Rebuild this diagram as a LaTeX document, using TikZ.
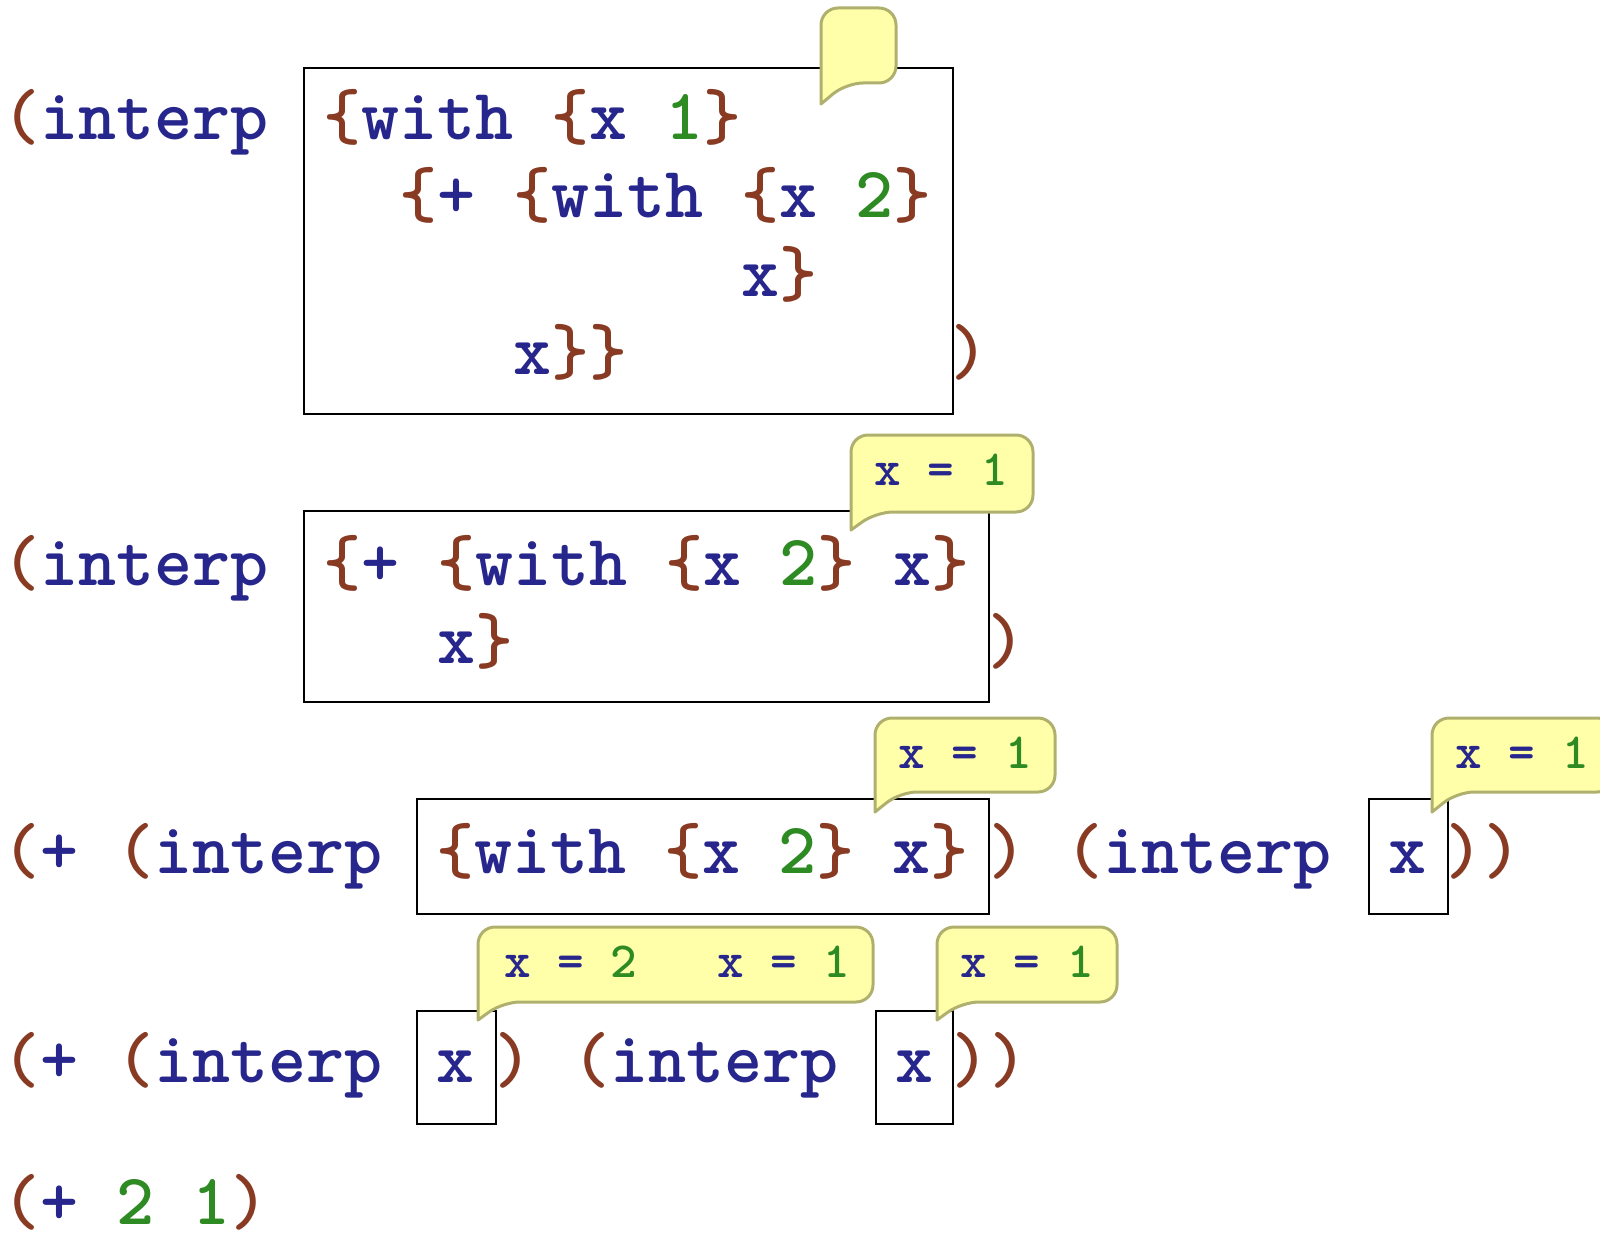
\documentclass[tikz,border=0pt]{standalone}
\definecolor{idblue}{RGB}{38,38,140}
\definecolor{brbrown}{RGB}{136,58,34}
\definecolor{numgreen}{RGB}{46,138,34}
\definecolor{bubfill}{RGB}{255,255,170}
\definecolor{bubedge}{RGB}{176,176,110}
\newcommand\Br[1]{\textcolor{brbrown}{#1}}
\newcommand\Id[1]{\textcolor{idblue}{#1}}
\newcommand\Num[1]{\textcolor{numgreen}{#1}}
% left, top, right, bottom, tip
\newcommand\speech[5]{\draw[bubble] (#1,#5) [rounded corners=17pt] -- (#1,#2) -- (#3,#2) -- (#3,#4) -- (#1+25,#4) [sharp corners] -- cycle;}
\begin{document}
\begin{tikzpicture}[x=1pt,y=-1pt,
    code/.style={font=\ttfamily\bfseries\fontsize{72.4}{78}\selectfont,inner sep=0pt,anchor=base west},
    note/.style={font=\ttfamily\bfseries\fontsize{50.7}{56}\selectfont,inner sep=0pt,anchor=base west},
    bubble/.style={fill=bubfill,draw=bubedge,line width=3pt,line join=round}]
    \tikzstyle{codebox}=[draw=black,line width=2pt,inner sep=0pt,anchor=north west]
    \useasboundingbox (0,0) rectangle (1600,1233);

    \node[codebox,minimum width=649pt,minimum height=346pt] (box1) at (303,67) {};
    \node[codebox,minimum width=685pt,minimum height=191pt] (box2) at (303,510) {};
    \node[codebox,minimum width=572pt,minimum height=115pt] (box3a) at (416,798) {};
    \node[codebox,minimum width=79pt,minimum height=115pt] (box3b) at (1368,798) {};
    \node[codebox,minimum width=79pt,minimum height=113pt] (box4a) at (416,1010) {};
    \node[codebox,minimum width=77pt,minimum height=113pt] (box4b) at (875,1010) {};

    % first step
    \node[code] (r1a) at (2,140) {\Br{(}\Id{interp}};
    \node[code] (r1b) at (323,140) {\Br{\{}\Id{with}~\Br{\{}\Id{x}~\Num{1}\Br{\}}};
    \node[code] (r1c) at (399,218) {\Br{\{}\Id{+}~\Br{\{}\Id{with}~\Br{\{}\Id{x}~\Num{2}\Br{\}}};
    \node[code] (r1d) at (741,296) {\Id{x}\Br{\}}};
    \node[code] (r1e) at (513,374) {\Id{x}\Br{\}\}}};
    \node[code] (r1f) at (950,374) {\Br{)}};

    % second step
    \node[code] (r2a) at (2,585) {\Br{(}\Id{interp}};
    \node[code] (r2b) at (323,585) {\Br{\{}\Id{+}~\Br{\{}\Id{with}~\Br{\{}\Id{x}~\Num{2}\Br{\}}~\Id{x}\Br{\}}};
    \node[code] (r2c) at (437,663) {\Id{x}\Br{\}}};
    \node[code] (r2d) at (987,663) {\Br{)}};

    % third step
    \node[code] (r3a) at (2,873) {\Br{(}\Id{+}~\Br{(}\Id{interp}};
    \node[code] (r3b) at (436,873) {\Br{\{}\Id{with}~\Br{\{}\Id{x}~\Num{2}\Br{\}}~\Id{x}\Br{\}}};
    \node[code] (r3c) at (988,873) {\Br{)}};
    \node[code] (r3d) at (1065,873) {\Br{(}\Id{interp}};
    \node[code] (r3e) at (1388,873) {\Id{x}};
    \node[code] (r3f) at (1445,873) {\Br{))}};

    % fourth step
    \node[code] (r4a) at (2,1082) {\Br{(}\Id{+}~\Br{(}\Id{interp}};
    \node[code] (r4b) at (436,1082) {\Id{x}};
    \node[code] (r4c) at (494,1082) {\Br{)}};
    \node[code] (r4d) at (572,1082) {\Br{(}\Id{interp}};
    \node[code] (r4e) at (895,1082) {\Id{x}};
    \node[code] (r4f) at (951,1082) {\Br{))}};

    \node[code] (r5a) at (2,1224) {\Br{(}\Id{+}~\Num{2}~\Num{1}\Br{)}};

    % environments
    \speech{821}{8}{896}{83}{104}
    \speech{851}{435}{1033}{512}{530}
    \speech{875}{718}{1055}{792}{812}
    \speech{1432}{718}{1614}{792}{812}
    \speech{478}{927}{873}{1002}{1020}
    \speech{937}{927}{1117}{1002}{1020}

    \node[note] (env2) at (874.5,485) {\Id{x}~\Id{=}~\Num{1}};
    \node[note] (env3a) at (898.5,768) {\Id{x}~\Id{=}~\Num{1}};
    \node[note] (env3b) at (1455.5,768) {\Id{x}~\Id{=}~\Num{1}};
    \node[note] (env4a) at (504,977) {\Id{x}~\Id{=}~\Num{2}~~~\Id{x}~\Id{=}~\Num{1}};
    \node[note] (env4b) at (960.5,977) {\Id{x}~\Id{=}~\Num{1}};

\end{tikzpicture}
\end{document}
